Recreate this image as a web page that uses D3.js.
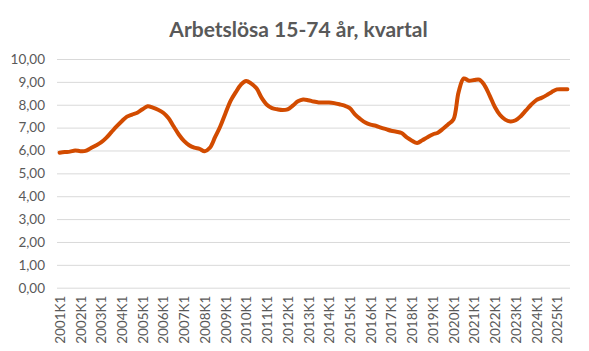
<!DOCTYPE html>
<html>
<head>
<meta charset="utf-8">
<script src="https://cdn.jsdelivr.net/npm/d3@7/dist/d3.min.js"></script>
<style>
  html, body { margin: 0; padding: 0; background: #fff; }
  svg { display: block; }
</style>
</head>
<body>
<svg id="chart" width="589" height="351"></svg>
<script>
const title = "Arbetslösa 15-74 år, kvartal";
const years = ["2001","2002","2003","2004","2005","2006","2007","2008","2009","2010","2011","2012","2013",
  "2014","2015","2016","2017","2018","2019","2020","2021","2022","2023","2024","2025"];
const quarterSuffixes = ["K1","K2","K3","K4"];
const yTicks = [0,1,2,3,4,5,6,7,8,9,10];

// Arbetslösa (procent), kvartal 2001K1 – 2025K3
const values = [
  5.90, 5.93, 5.95, 6.00,
  5.97, 5.98, 6.10, 6.22,
  6.35, 6.55, 6.80, 7.05,
  7.28, 7.48, 7.57, 7.65,
  7.80, 7.93, 7.87, 7.78,
  7.65, 7.42, 7.06, 6.70,
  6.42, 6.23, 6.12, 6.07,
  5.97, 6.12, 6.58, 7.05,
  7.62, 8.17, 8.55, 8.88,
  9.04, 8.92, 8.72, 8.30,
  8.00, 7.85, 7.80, 7.77,
  7.80, 7.96, 8.15, 8.23,
  8.20, 8.14, 8.10, 8.10,
  8.10, 8.07, 8.02, 7.96,
  7.85, 7.58, 7.38, 7.22,
  7.13, 7.08, 7.00, 6.93,
  6.86, 6.82, 6.76, 6.57,
  6.43, 6.33, 6.45, 6.58,
  6.70, 6.78, 6.95, 7.15,
  7.35, 8.55, 9.15, 9.05,
  9.08, 9.10, 8.85, 8.40,
  7.90, 7.55, 7.35, 7.27,
  7.32, 7.50, 7.75, 8.00,
  8.20, 8.30, 8.42, 8.56,
  8.67, 8.68, 8.68
];

const categories = [];
years.forEach(y => quarterSuffixes.forEach(q => categories.push(y + q)));
categories.length = values.length;
const tickLabels = years.map(y => y + "K1");

const svg = d3.select("#chart");
const W = 589, H = 351;
const m = { left: 57, right: 19, top: 59, bottom: 63.3 };

const x = d3.scalePoint().domain(categories).range([m.left, W - m.right]).padding(0.5);
const y = d3.scaleLinear().domain([0, 10]).range([H - m.bottom, m.top]);

const fmt = v => d3.format(".2f")(v).replace(".", ",");
const textColor = "#595959";
const font = "Lato, 'Open Sans', sans-serif";

// title
svg.append("text")
  .attr("x", W / 2 + 4)
  .attr("y", 37)
  .attr("text-anchor", "middle")
  .attr("font-family", font)
  .attr("font-weight", "bold")
  .attr("font-size", 21)
  .attr("fill", textColor)
  .text(title);

// gridlines
const yAxis = d3.axisLeft(y).tickValues(yTicks).tickFormat(fmt).tickSize(-(W - m.left - m.right)).tickPadding(12);
const gy = svg.append("g").attr("transform", `translate(${m.left},0)`).call(yAxis);
gy.select(".domain").remove();
gy.selectAll(".tick line").attr("stroke", "#d9d9d9").attr("stroke-width", 1);
gy.selectAll(".tick text")
  .attr("font-family", font)
  .attr("font-size", 13.5)
  .attr("fill", textColor);

// x axis
const xAxis = d3.axisBottom(x).tickValues(tickLabels).tickSize(0).tickPadding(0);
const gx = svg.append("g").attr("transform", `translate(0,${H - m.bottom})`).call(xAxis);
gx.select(".domain").remove();
gx.selectAll(".tick text")
  .attr("font-family", font)
  .attr("font-size", 13.5)
  .attr("fill", textColor)
  .attr("text-anchor", "end")
  .attr("dy", "0.35em")
  .attr("transform", "translate(0,8) rotate(-90)")
  .attr("x", 0)
  .attr("y", 0);

// line
const line = d3.line()
  .x((d, i) => x(categories[i]))
  .y(d => y(d))
  .curve(d3.curveCatmullRom.alpha(0.5));

svg.append("path")
  .datum(values)
  .attr("d", line)
  .attr("fill", "none")
  .attr("stroke", "#d24b00")
  .attr("stroke-width", 4)
  .attr("stroke-linecap", "round")
  .attr("stroke-linejoin", "round");
</script>
</body>
</html>
